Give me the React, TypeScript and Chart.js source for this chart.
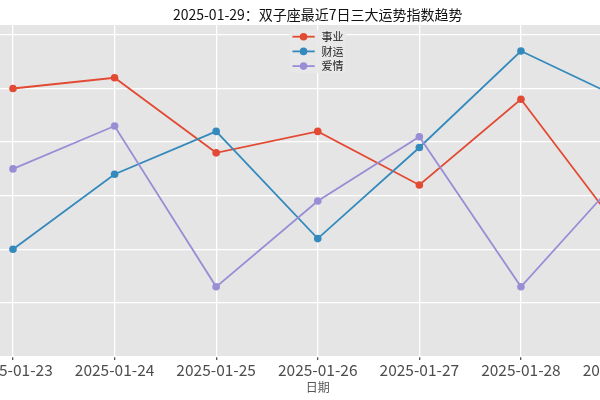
import React, { useEffect, useRef } from 'react';
import { Chart, registerables } from 'chart.js';

Chart.register(...registerables);

const dates = ['2025-01-23', '2025-01-24', '2025-01-25', '2025-01-26', '2025-01-27', '2025-01-28', '2025-01-29'];
const seriesNames = ['事业', '财运', '爱情'];
const career = [90, 92, 78, 82, 72, 88, 63];
const wealth = [60, 74, 82, 62, 79, 97, 88];
const love = [75, 83, 53, 69, 81, 53, 74];
const seriesColors = ['#E24A33', '#348ABD', '#988ED5'];
const yGridValues = [40, 50, 60, 70, 80, 90, 100];
const titleText = '2025-01-29：双子座最近7日三大运势指数趋势';
const xAxisTitle = '日期';

const FONT = "'Noto Sans CJK SC', 'Noto Sans', sans-serif";

const bgPlugin = {
  id: 'axesBg',
  beforeDraw(chart: any) {
    const { ctx, chartArea } = chart;
    ctx.save();
    ctx.fillStyle = '#E5E5E5';
    ctx.fillRect(chartArea.left, chartArea.top, chartArea.right - chartArea.left, chartArea.bottom - chartArea.top);
    ctx.restore();
  },
};

const legendPlugin = {
  id: 'mplLegend',
  afterDatasetsDraw(chart: any) {
    const { ctx, chartArea } = chart;
    const ds = chart.data.datasets;
    const w = 56;
    const h = 43;
    const cx = (chartArea.left + chartArea.right) / 2;
    const left = cx - w / 2;
    const top = chartArea.top + 5;
    ctx.save();
    ctx.fillStyle = 'rgba(232,232,232,0.9)';
    ctx.beginPath();
    if ((ctx as any).roundRect) (ctx as any).roundRect(left, top, w, h, 3);
    else ctx.rect(left, top, w, h);
    ctx.fill();
    ds.forEach((d: any, i: number) => {
      const y = top + 6.7 + i * 14.7;
      ctx.strokeStyle = d.borderColor;
      ctx.lineWidth = 1.8;
      ctx.beginPath();
      ctx.moveTo(left + 2.7, y);
      ctx.lineTo(left + 25, y);
      ctx.stroke();
      ctx.fillStyle = d.borderColor;
      ctx.beginPath();
      ctx.arc(left + 13.8, y, 3.8, 0, Math.PI * 2);
      ctx.fill();
      ctx.fillStyle = '#222';
      ctx.font = `11px ${FONT}`;
      ctx.textBaseline = 'middle';
      ctx.textAlign = 'left';
      ctx.fillText(d.label, left + 31.7, y);
    });
    ctx.restore();
  },
};

export default function App() {
  const canvasRef = useRef<HTMLCanvasElement | null>(null);

  useEffect(() => {
    const canvas = canvasRef.current;
    if (!canvas) return;
    const seriesValues = [career, wealth, love];
    const chart = new Chart(canvas, {
      type: 'line',
      data: {
        datasets: seriesNames.map((name, k) => ({
          label: name,
          data: seriesValues[k].map((v, i) => ({ x: i, y: v })),
          borderColor: seriesColors[k],
          backgroundColor: seriesColors[k],
          borderWidth: 1.8,
          pointRadius: 3.8,
          pointBorderWidth: 0,
          pointHoverRadius: 3.8,
          tension: 0,
          order: 2 - k,
        })),
      },
      options: {
        animation: false,
        responsive: true,
        maintainAspectRatio: false,
        events: [],
        layout: { padding: { left: 42.5, right: 42, top: 0, bottom: 5 } },
        scales: {
          x: {
            type: 'linear',
            min: -0.3,
            max: 6.3,
            afterBuildTicks: (s: any) => {
              s.ticks = dates.map((_, i) => ({ value: i }));
            },
            ticks: {
              autoSkip: false,
              maxRotation: 0,
              padding: 1,
              color: '#4d4d4d',
              font: { family: FONT, size: 15.5 },
              callback: (v: any) => dates[v as number] ?? '',
            },
            grid: { color: '#ffffff', lineWidth: 1.3, tickColor: '#555', tickLength: 3.5, drawTicks: true },
            border: { display: false },
            title: {
              display: true,
              text: xAxisTitle,
              color: '#555',
              font: { family: FONT, size: 12 },
              padding: { top: 0, bottom: 0 },
            },
          },
          y: {
            min: 40,
            max: 101.85,
            afterBuildTicks: (s: any) => {
              s.ticks = yGridValues.map((v) => ({ value: v }));
            },
            ticks: { display: false },
            grid: { color: '#ffffff', lineWidth: 1.3, drawTicks: false },
            border: { display: false },
          },
        },
        plugins: {
          legend: { display: false },
          tooltip: { enabled: false },
          title: {
            display: true,
            text: titleText,
            color: '#111',
            font: { family: FONT, size: 14, weight: 'normal' },
            padding: { top: 6, bottom: 2.2 },
          },
        },
      },
      plugins: [bgPlugin, legendPlugin],
    } as any);
    return () => chart.destroy();
  }, []);

  return (
    <div style={{ position: 'fixed', left: 0, top: 0, width: 600, height: 400, overflow: 'hidden', background: '#fff' }}>
      <div style={{ position: 'absolute', left: -60, top: 0, width: 755, height: 400 }}>
        <canvas ref={canvasRef} />
      </div>
    </div>
  );
}
